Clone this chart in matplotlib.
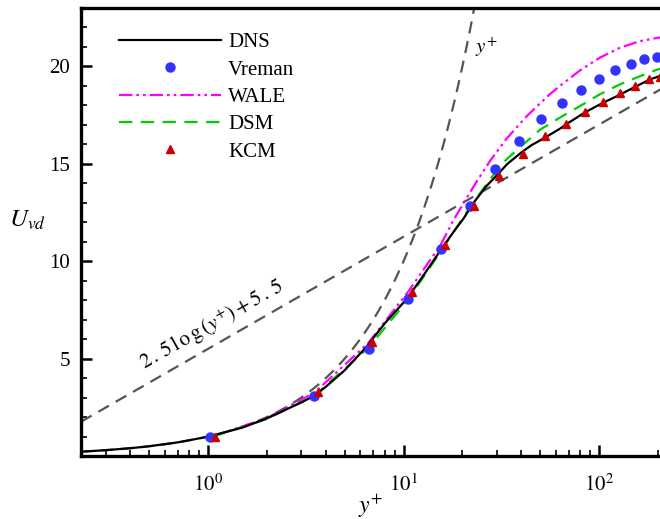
"""Mean velocity profile U_vd vs y+ : DNS and LES models."""

import matplotlib
matplotlib.use("Agg")
import matplotlib.pyplot as plt
import numpy as np
from matplotlib.ticker import FixedLocator, LogLocator, NullFormatter

plt.rcParams["font.family"] = ["Liberation Serif", "DejaVu Serif"]
plt.rcParams["mathtext.fontset"] = "stix"

# %% data
dns_x = [0.224, 0.3, 0.4, 0.5, 0.7, 1.0, 1.5, 2.0, 3.0, 3.53, 4.0, 5.0, 6.48, 8.0,
         10.4, 12.5, 15.4, 18.0, 20.2, 23.0, 26.6, 29.3, 34.0, 40.0, 45.0, 53.0, 63.0,
         68.4, 85.0, 105.0, 125.0, 150.0, 182.0, 210.0]
dns_y = [0.22, 0.30, 0.40, 0.50, 0.70, 0.99, 1.46, 1.93, 2.75, 3.12, 3.55, 4.40, 5.62, 6.80,
         8.07, 9.20, 10.54, 11.50, 12.17, 13.05, 13.87, 14.30, 15.00, 15.58, 15.95, 16.35,
         16.80, 17.05, 17.65, 18.14, 18.50, 18.91, 19.33, 19.55]

wale_x = [1.05, 2.0, 3.5, 6.6, 10.5, 15.4, 18.0, 20.6, 23.7, 27.7, 33.7, 42.7, 49.9,
          56.1, 63.1, 80.0, 101.0, 128.0, 162.0, 200.0, 210.0]
wale_y = [1.0, 1.95, 3.25, 5.8, 8.4, 10.8, 12.1, 13.1, 14.1, 15.15, 16.3, 17.45, 18.1,
          18.58, 19.0, 19.8, 20.45, 20.96, 21.3, 21.47, 21.5]

dsm_x = [1.05, 2.0, 3.5, 6.6, 10.5, 15.5, 21.0, 27.7, 33.7, 41.0, 49.9, 63.0, 80.0,
         101.0, 128.0, 162.0, 200.0, 210.0]
dsm_y = [0.98, 1.9, 3.1, 5.55, 8.0, 10.5, 12.51, 14.21, 15.24, 16.0, 16.75, 17.37, 17.97,
         18.57, 19.08, 19.5, 19.85, 19.9]

vreman_x = [1.02, 3.49, 6.66, 10.58, 15.6, 21.9, 29.4, 39.0, 50.3, 64.4, 80.9, 100.0,
            120.7, 145.8, 170.5, 197.3]
vreman_y = [0.95, 3.09, 5.47, 8.07, 10.63, 12.85, 14.73, 16.18, 17.29, 18.10, 18.79, 19.33,
            19.81, 20.15, 20.39, 20.50]

kcm_x = [1.08, 3.67, 6.92, 11.0, 16.3, 22.8, 30.9, 40.7, 52.9, 67.6, 84.8, 105.2,
         127.6, 152.3, 180.2, 205.0]
kcm_y = [0.99, 3.29, 5.85, 8.44, 10.83, 12.85, 14.38, 15.53, 16.43, 17.07, 17.66, 18.19,
         18.62, 18.99, 19.33, 19.47]

# reference laws: U = y+ and U = 2.5 ln(y+) + 5.5
kappa_inv = 2.5
const_b = 5.5
yp_visc = np.geomspace(0.224, 23.5, 200)
yp_log = np.geomspace(0.224, 210, 200)

# %% figure
fig = plt.figure(figsize=(6.6, 5.19), dpi=100)
ax = fig.add_axes([81 / 660, 1 - 456 / 519, 1 - 81 / 660, (456 - 8) / 519])

ref_style = dict(color="#555555", lw=1.6, dashes=(5.5, 3.5))
ax.plot(yp_visc, yp_visc, **ref_style)
ax.plot(yp_log, kappa_inv * np.log(yp_log) + const_b, **ref_style)

ax.plot(dns_x, dns_y, color="black", lw=1.6, label="DNS", zorder=4)
ax.plot(vreman_x, vreman_y, ls="none", marker="o", ms=6.5, color="#3333ff",
        mec="#3333ff", label="Vreman", zorder=5)
ax.plot(wale_x, wale_y, color="#ff00ff", lw=1.6, dashes=(6, 1.8, 1.2, 1.8, 1.2, 1.8),
        label="WALE", zorder=3)
ax.plot(dsm_x, dsm_y, color="#00cc00", lw=1.6, dashes=(6, 3.8), label="DSM", zorder=3)
ax.plot(kcm_x, kcm_y, ls="none", marker="^", ms=5.5, color="#cc0000",
        label="KCM", zorder=6)

ax.text(26.6, 21.0, "$y^{+}$", fontsize=15, ha="center", va="center")
ax.text(1.05, 6.7, r"$2\,.\,5\,\mathrm{l\,o\,g}\,(y^{+})+5\,.\,5$", fontsize=15,
        rotation=29.5, ha="center", va="center", rotation_mode="anchor")

# %% axes
ax.set_xscale("log")
ax.set_xlim(0.224, 205)
ax.set_ylim(0, 23)
ax.xaxis.set_major_locator(FixedLocator([1, 10, 100]))
ax.set_xticklabels(["$10^{0}$", "$10^{1}$", "$10^{2}$"])
ax.xaxis.set_minor_locator(LogLocator(base=10, subs=np.arange(2, 10)))
ax.xaxis.set_minor_formatter(NullFormatter())
ax.set_yticks([5, 10, 15, 20])
ax.yaxis.set_minor_locator(FixedLocator(np.arange(1, 23)))

ax.tick_params(which="both", direction="in", top=False, right=False, labelsize=15)
ax.tick_params(axis="x", which="major", pad=13)
ax.tick_params(axis="y", which="major", pad=8)
ax.tick_params(which="major", length=8, width=1.8)
ax.tick_params(which="minor", length=4.5, width=1.2)

for side in ("left", "bottom", "top"):
    ax.spines[side].set_linewidth(2.4)
ax.spines["right"].set_visible(False)

ax.set_xlabel("$y^{+}$", fontsize=17, labelpad=-2)
ax.set_ylabel("$U_{vd}$", fontsize=18, rotation=0)
ax.yaxis.set_label_coords(-0.092, 0.50)

ax.legend(loc="upper left", bbox_to_anchor=(0.051, 0.963), frameon=False, fontsize=15,
          handlelength=4.9, handletextpad=0.35, labelspacing=0.37, borderaxespad=0)

fig.savefig("out.png", dpi=100)
